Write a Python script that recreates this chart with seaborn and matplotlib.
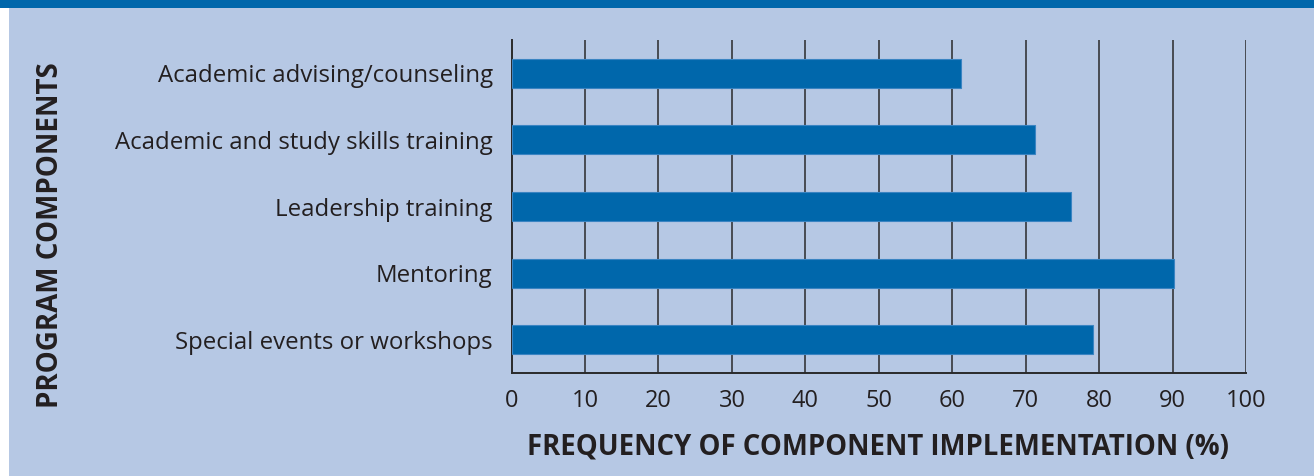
import matplotlib
matplotlib.use("Agg")
import matplotlib.pyplot as plt
import seaborn as sns
import pandas as pd
from matplotlib.patches import Rectangle

categories = [
    "Academic advising/counseling",
    "Academic and study skills training",
    "Leadership training",
    "Mentoring",
    "Special events or workshops",
]
values = [61.2, 71.2, 76.2, 90.2, 79.2]
xticks = [0, 10, 20, 30, 40, 50, 60, 70, 80, 90, 100]

BG = "#b6c8e4"
BAR = "#0067ab"
TXT = "#231f20"

sns.set_theme(style="white")
plt.rcParams["font.family"] = ["Open Sans", "DejaVu Sans"]

df = pd.DataFrame({"component": categories, "value": values})

fig = plt.figure(figsize=(13.14, 4.76), dpi=100)
fig.patch.set_facecolor(BG)
fig.patches.append(Rectangle((0, 1 - 8 / 476), 1, 8 / 476, transform=fig.transFigure,
                             facecolor=BAR, edgecolor="none", zorder=0))
fig.patches.append(Rectangle((0, 0), 9 / 1314, 1 - 8 / 476, transform=fig.transFigure,
                             facecolor="white", edgecolor="none", zorder=0))

ax = fig.add_axes([511.5 / 1314, 1 - 373 / 476, (1246.3 - 511.5) / 1314, (373 - 40) / 476])
ax.set_facecolor(BG)

sns.barplot(data=df, x="value", y="component", orient="h", color=BAR,
            width=0.435, edgecolor="#3a84c2", linewidth=0.8, saturation=1, ax=ax, zorder=3)

ax.set_xlim(0, 100)
ax.set_ylim(4.5, -0.5)
ax.set_xticks(xticks)
ax.set_xticklabels([str(t) for t in xticks], fontsize=17, color=TXT)
for t in xticks[1:]:
    ax.axvline(t, color="#2a2a2a", linewidth=1.1, zorder=2)

ax.set_yticks(range(len(categories)))
ax.set_yticklabels(categories, fontsize=17.3, color=TXT)
ax.tick_params(axis="y", which="major", length=0, pad=13.5)
ax.set_yticks([i - 0.5 for i in range(len(categories) + 1)], minor=True)
ax.tick_params(axis="y", which="minor", length=7, width=1.1, color="#2a2a2a", direction="out")
ax.tick_params(axis="x", length=0, pad=11.5)

for s in ["top", "right"]:
    ax.spines[s].set_visible(False)
for s in ["left", "bottom"]:
    ax.spines[s].set_color("#2a2a2a")
    ax.spines[s].set_linewidth(1.4)

ax.set_xlabel("")
ax.set_ylabel("")

fig.text(878 / 1314, 1 - 447 / 476, "FREQUENCY OF COMPONENT IMPLEMENTATION (%)",
         ha="center", va="center", fontsize=19.8, fontweight="bold", color=TXT)
fig.text(51 / 1314, 1 - 235 / 476, "PROGRAM COMPONENTS", rotation=90,
         ha="center", va="center", fontsize=20, fontweight="bold", color=TXT)

fig.savefig("out.png", dpi=100, facecolor=BG)
